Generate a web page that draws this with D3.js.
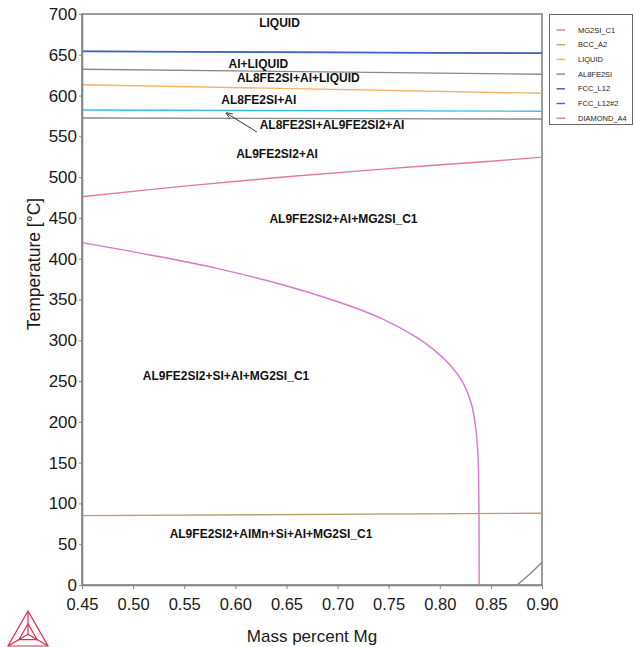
<!DOCTYPE html>
<html>
<head>
<meta charset="utf-8">
<script src="https://cdn.jsdelivr.net/npm/d3@7"></script>
<style>
  html, body { margin: 0; padding: 0; background: #fff; }
  svg { display: block; font-family: "Liberation Sans", Arial, sans-serif; }
</style>
</head>
<body>
<svg id="chart" width="634" height="647"></svg>
<script>
// Isopleth section: temperature vs. mass percent Mg
const xTicks = [0.45, 0.50, 0.55, 0.60, 0.65, 0.70, 0.75, 0.80, 0.85, 0.90];
const yTicks = [0, 50, 100, 150, 200, 250, 300, 350, 400, 450, 500, 550, 600, 650, 700];

// Phase boundaries, [mass % Mg, T °C]
const fccL12Line   = [[0.45, 654.5], [0.90, 652.0]];
const fccL12bLine  = [[0.45, 654.0], [0.90, 651.8]];
const al8UpperLine = [[0.45, 632.2], [0.90, 626.2]];
const liquidLine   = [[0.45, 613.3], [0.90, 602.8]];
const cyanLine     = [[0.45, 582.3], [0.90, 580.8]];
const al8LowerLine = [[0.45, 572.5], [0.90, 571.2]];
const mg2siLine    = [[0.45, 476.0], [0.55, 489.0], [0.65, 500.5], [0.75, 510.5], [0.85, 519.5], [0.90, 524.5]];
const diamondLine  = [[0.45, 419.7], [0.5165, 404.6], [0.5817, 388.2], [0.647, 367.8], [0.7122, 342.0],
                      [0.7448, 325.7], [0.7774, 303.6], [0.7937, 288.9], [0.810, 269.7], [0.823, 247.2],
                      [0.8312, 220.7], [0.8354, 190.0], [0.8374, 157.3], [0.8380, 128.7], [0.8384, 80.0],
                      [0.8385, 0.0]];
const bccLine      = [[0.45, 85.0], [0.90, 88.0]];
const al8CornerLine = [[0.8756, 0.0], [0.8850, 10.0], [0.90, 28.0]];

// Region labels: [text, mass % Mg, T °C]
const regionLabels = [
  ["LIQUID", 0.6432, 683.9],
  ["AI+LIQUID", 0.6225, 634.2],
  ["AL8FE2SI+AI+LIQUID", 0.6616, 616.6],
  ["AL8FE2SI+AI", 0.6229, 590.1],
  ["AL8FE2SI+AL9FE2SI2+AI", 0.6946, 558.7],
  ["AL9FE2SI2+AI", 0.6408, 523.1],
  ["AL9FE2SI2+AI+MG2SI_C1", 0.7058, 443.8],
  ["AL9FE2SI2+SI+AI+MG2SI_C1", 0.5909, 251.3],
  ["AL9FE2SI2+AlMn+Si+AI+MG2SI_C1", 0.6349, 57.3]
];
// Pointer from a label to its narrow field: [tail, head]
const pointer = [[0.621, 555.4], [0.591, 578.6]];

const legendNames  = ["MG2SI_C1", "BCC_A2", "LIQUID", "AL8FE2SI", "FCC_L12", "FCC_L12#2", "DIAMOND_A4"];
const legendColors = ["#e2799a", "#b9a26c", "#f7b366", "#8a8a8a", "#4a57a6", "#3f6bd0", "#d679cf"];

const svg = d3.select("#chart");
const margin = {left: 82, right: 92, top: 14, bottom: 62};
const W = 634, H = 647;

const x = d3.scaleLinear().domain([0.45, 0.90]).range([margin.left, W - margin.right]);
const y = d3.scaleLinear().domain([0, 700]).range([H - margin.bottom, margin.top]);

const axisColor = "#858585";

// Frame
svg.append("rect")
  .attr("x", x(0.45)).attr("y", y(700))
  .attr("width", x(0.90) - x(0.45)).attr("height", y(0) - y(700))
  .attr("fill", "none").attr("stroke", axisColor).attr("stroke-width", 1.6);

svg.append("clipPath").attr("id", "plotclip")
  .append("rect")
  .attr("x", x(0.45)).attr("y", y(700))
  .attr("width", x(0.90) - x(0.45)).attr("height", y(0) - y(700));

const plot = svg.append("g").attr("clip-path", "url(#plotclip)");

const straight = d3.line().x(d => x(d[0])).y(d => y(d[1]));
const smooth = d3.line().x(d => x(d[0])).y(d => y(d[1])).curve(d3.curveCatmullRom.alpha(0.5));

const boundaries = [
  {data: fccL12Line, color: "#4a57a6", gen: straight},
  {data: fccL12bLine, color: "#3f68c8", gen: straight},
  {data: al8UpperLine, color: "#8a8a8a", gen: straight},
  {data: liquidLine, color: "#f7b366", gen: straight},
  {data: cyanLine, color: "#3cbde9", gen: straight},
  {data: al8LowerLine, color: "#8a8a8a", gen: straight},
  {data: mg2siLine, color: "#e2799a", gen: smooth},
  {data: bccLine, color: "#b9a26c", gen: straight},
  {data: diamondLine, color: "#d679cf", gen: smooth},
  {data: al8CornerLine, color: "#8a8a8a", gen: smooth}
];

plot.selectAll("path.boundary")
  .data(boundaries)
  .join("path")
  .attr("class", "boundary")
  .attr("d", d => d.gen(d.data))
  .attr("fill", "none")
  .attr("stroke", d => d.color)
  .attr("stroke-width", 1.4);

// Axes
const xAxis = svg.append("g")
  .attr("transform", `translate(0,${y(0)})`)
  .call(d3.axisBottom(x).tickValues(xTicks).tickFormat(d3.format(".2f")).tickSize(4).tickSizeOuter(0));
xAxis.select(".domain").attr("stroke", axisColor).attr("stroke-width", 1.6);
xAxis.selectAll(".tick line").attr("stroke", axisColor);
xAxis.selectAll(".tick text")
  .attr("dy", null).attr("y", 25)
  .attr("fill", "#1a1a1a")
  .style("font-size", "16.5px");

const yAxis = svg.append("g")
  .attr("transform", `translate(${x(0.45)},0)`)
  .call(d3.axisLeft(y).tickValues(yTicks).tickFormat(d3.format("d")).tickSize(3).tickPadding(2).tickSizeOuter(0));
yAxis.select(".domain").attr("stroke", axisColor).attr("stroke-width", 1.6);
yAxis.selectAll(".tick line").attr("stroke", axisColor);
yAxis.selectAll(".tick text")
  .attr("fill", "#1a1a1a")
  .style("font-size", "17px");

// Axis titles
svg.append("text")
  .attr("x", (x(0.45) + x(0.90)) / 2).attr("y", 642)
  .attr("text-anchor", "middle")
  .attr("fill", "#1a1a1a")
  .style("font-size", "17px")
  .text("Mass percent Mg");

svg.append("text")
  .attr("transform", "translate(40,264) rotate(-90)")
  .attr("text-anchor", "middle")
  .attr("fill", "#1a1a1a")
  .style("font-size", "17.5px")
  .text("Temperature [°C]");

// Region labels
svg.selectAll("text.region")
  .data(regionLabels)
  .join("text")
  .attr("class", "region")
  .attr("x", d => x(d[1]))
  .attr("y", d => y(d[2]))
  .attr("text-anchor", "middle")
  .attr("fill", "#111")
  .style("font-size", "12px")
  .style("font-weight", "bold")
  .text(d => d[0]);

// Pointer arrow
svg.append("defs").append("marker")
  .attr("id", "arrowhead")
  .attr("viewBox", "0 0 10 10")
  .attr("refX", 9).attr("refY", 5)
  .attr("markerWidth", 7).attr("markerHeight", 7)
  .attr("orient", "auto")
  .append("path")
  .attr("d", "M0,1 L10,5 L0,9")
  .attr("fill", "none")
  .attr("stroke", "#333")
  .attr("stroke-width", 1.2);

svg.append("path")
  .attr("d", straight(pointer))
  .attr("stroke", "#333")
  .attr("stroke-width", 1)
  .attr("fill", "none")
  .attr("marker-end", "url(#arrowhead)");

// Legend
const legend = svg.append("g");
legend.append("rect")
  .attr("x", 549.5).attr("y", 14.5)
  .attr("width", 83).attr("height", 110)
  .attr("fill", "#fff")
  .attr("stroke", "#666")
  .attr("stroke-width", 1);

const rows = legend.selectAll("g.row")
  .data(legendNames.map((n, i) => ({name: n, color: legendColors[i], i})))
  .join("g")
  .attr("class", "row")
  .attr("transform", d => `translate(0,${30 + d.i * 14.7})`);
rows.append("line")
  .attr("x1", 556.5).attr("x2", 565)
  .attr("stroke", d => d.color).attr("stroke-width", 1.4);
rows.append("text")
  .attr("x", 578).attr("dy", "0.35em")
  .attr("fill", "#222")
  .style("font-size", "7.5px")
  .text(d => d.name);

// Thermo-Calc logo mark
const logoColor = "#e0294f";
const outer = [[28, 611], [8, 646], [48, 646]];
const centre = [28, 634.3];
const inner = outer.map(p => [centre[0] + (p[0] - centre[0]) * 0.45, centre[1] + (p[1] - centre[1]) * 0.45]);
const logo = svg.append("g").attr("fill", "none").attr("stroke", logoColor).attr("stroke-width", 1.2);
logo.append("path").attr("d", d3.line()(outer) + "Z");
logo.append("path").attr("d", d3.line()(inner) + "Z");
outer.forEach((p, i) => {
  logo.append("path").attr("d", d3.line()([p, inner[i]]));
  logo.append("path").attr("d", d3.line()([inner[i], centre]));
});
</script>
</body>
</html>
